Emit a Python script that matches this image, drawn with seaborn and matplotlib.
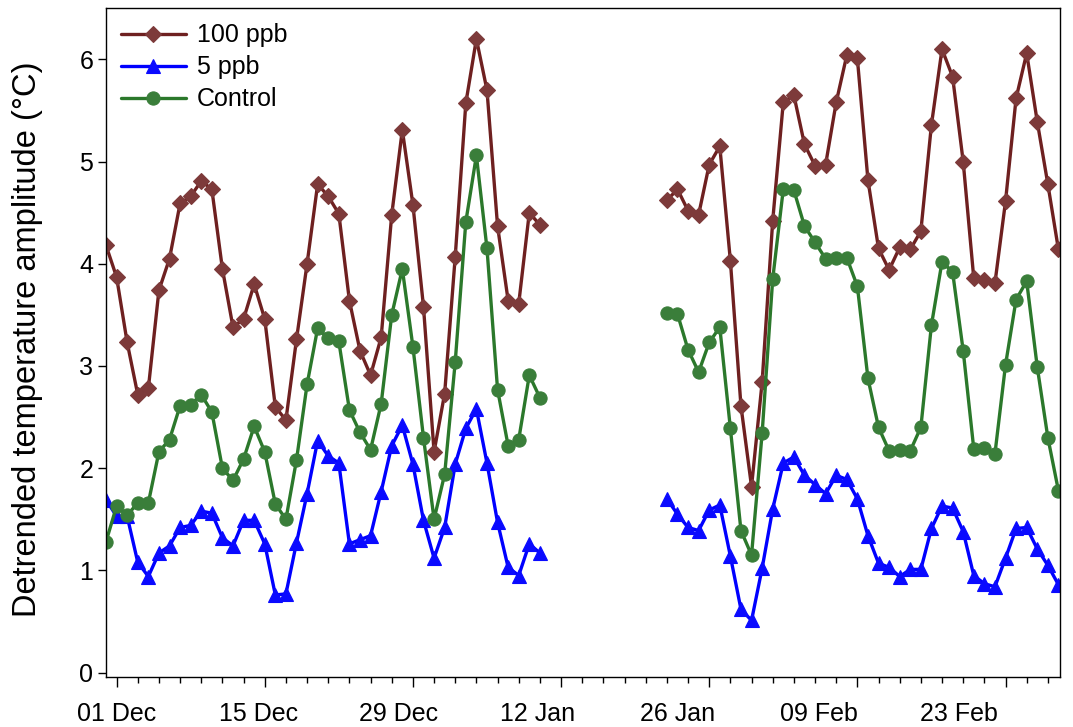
import numpy as np
import pandas as pd
import matplotlib
matplotlib.use("Agg")
import matplotlib.pyplot as plt
import matplotlib.dates as mdates
from matplotlib.transforms import ScaledTranslation
import seaborn as sns

# ---------------- data ----------------
series_names = ["100 ppb", "5 ppb", "Control"]
seg1_start = "2014-11-30"   # daily values, first block
seg2_start = "2015-01-22"   # daily values, second block

ppb100_seg1 = [4.18, 3.87, 3.23, 2.72, 2.78, 3.74, 4.05, 4.59, 4.66, 4.81, 4.73,
               3.95, 3.38, 3.46, 3.80, 3.46, 2.60, 2.47, 3.26, 4.00, 4.78, 4.66,
               4.49, 3.64, 3.15, 2.91, 3.28, 4.48, 5.31, 4.58, 3.58, 2.16, 2.73,
               4.07, 5.57, 6.20, 5.70, 4.37, 3.64, 3.61, 4.50, 4.38]
ppb100_seg2 = [4.62, 4.73, 4.52, 4.48, 4.97, 5.15, 4.03, 2.61, 1.82, 2.84, 4.42,
               5.58, 5.65, 5.17, 4.96, 4.97, 5.58, 6.04, 6.01, 4.82, 4.15, 3.94,
               4.16, 4.14, 4.32, 5.36, 6.10, 5.83, 5.00, 3.86, 3.84, 3.81, 4.61,
               5.62, 6.06, 5.39, 4.78, 4.14]

ppb5_seg1 = [1.69, 1.53, 1.53, 1.08, 0.94, 1.17, 1.24, 1.42, 1.44, 1.58, 1.56,
             1.32, 1.24, 1.49, 1.49, 1.26, 0.76, 0.77, 1.27, 1.75, 2.27, 2.12,
             2.05, 1.26, 1.30, 1.34, 1.77, 2.22, 2.42, 2.04, 1.49, 1.12, 1.42,
             2.04, 2.39, 2.58, 2.05, 1.47, 1.03, 0.95, 1.26, 1.17]
ppb5_seg2 = [1.70, 1.55, 1.42, 1.39, 1.59, 1.64, 1.14, 0.62, 0.51, 1.02, 1.60,
             2.05, 2.11, 1.93, 1.84, 1.75, 1.93, 1.89, 1.70, 1.34, 1.07, 1.03,
             0.94, 1.01, 1.01, 1.41, 1.63, 1.61, 1.38, 0.95, 0.87, 0.84, 1.12,
             1.41, 1.42, 1.21, 1.05, 0.86]

control_seg1 = [1.28, 1.63, 1.54, 1.66, 1.66, 2.16, 2.28, 2.61, 2.62, 2.72, 2.55,
                2.00, 1.88, 2.09, 2.41, 2.16, 1.65, 1.50, 2.08, 2.82, 3.37, 3.27,
                3.24, 2.57, 2.35, 2.18, 2.63, 3.50, 3.95, 3.19, 2.30, 1.50, 1.94,
                3.04, 4.41, 5.06, 4.15, 2.77, 2.22, 2.28, 2.91, 2.69]
control_seg2 = [3.52, 3.51, 3.16, 2.94, 3.23, 3.38, 2.39, 1.39, 1.15, 2.34, 3.85,
                4.73, 4.72, 4.37, 4.21, 4.05, 4.06, 4.06, 3.78, 2.88, 2.40, 2.17,
                2.18, 2.17, 2.40, 3.40, 4.02, 3.92, 3.15, 2.19, 2.20, 2.14, 3.01,
                3.65, 3.83, 2.99, 2.30, 1.78]

tick_labels = ["01 Dec", "15 Dec", "29 Dec", "12 Jan", "26 Jan", "09 Feb", "23 Feb"]
tick_dates = pd.date_range("2014-12-01", periods=len(tick_labels), freq="14D")
minor_dates = pd.date_range("2014-12-01", "2015-02-28", freq="2D")
y_ticks = [0, 1, 2, 3, 4, 5, 6]

# ---------------- styles ----------------
line_colors = {"100 ppb": "#6e2020", "5 ppb": "#0000ff", "Control": "#2b782b"}
face_colors = {"100 ppb": "#7d3a3a", "5 ppb": "#0a0aff", "Control": "#3a7e3a"}
marker_map = {"100 ppb": "D", "5 ppb": "^", "Control": "o"}
marker_size = {"100 ppb": 8.3, "5 ppb": 10.5, "Control": 9.5}
label_shift_px = [0, -6, -14, -23, -32, -38, -47]

segments = {
    "100 ppb": [ppb100_seg1, ppb100_seg2],
    "5 ppb": [ppb5_seg1, ppb5_seg2],
    "Control": [control_seg1, control_seg2],
}
starts = [seg1_start, seg2_start]

frames = []
for name in series_names:
    for k, vals in enumerate(segments[name]):
        d = pd.date_range(starts[k], periods=len(vals), freq="D")
        frames.append(pd.DataFrame({"date": d, "value": vals,
                                    "series": name, "segment": k}))
df = pd.concat(frames, ignore_index=True)

# ---------------- plot ----------------
sns.set_theme(style="ticks")
plt.rcParams["font.family"] = ["Liberation Sans", "DejaVu Sans"]
plt.rcParams["text.color"] = "black"
plt.rcParams["axes.labelcolor"] = "black"
plt.rcParams["xtick.color"] = "black"
plt.rcParams["ytick.color"] = "black"

fig = plt.figure(figsize=(10.73, 7.27), dpi=100)
ax = fig.add_axes([0.0985, 0.0692, 0.8891, 0.9194])

sns.lineplot(data=df, x="date", y="value", hue="series", style="series",
             units="segment", estimator=None, hue_order=series_names,
             style_order=series_names, palette=line_colors, markers=marker_map,
             dashes=False, linewidth=2.4, ax=ax)

color_to_name = {matplotlib.colors.to_hex(c): n for n, c in line_colors.items()}


def restyle(line):
    n = color_to_name.get(matplotlib.colors.to_hex(line.get_color()))
    if n is None:
        return
    line.set_markerfacecolor(face_colors[n])
    line.set_markeredgecolor(face_colors[n])
    line.set_markeredgewidth(0.8)
    line.set_markersize(marker_size[n])


for ln in ax.lines:
    restyle(ln)

leg = ax.get_legend()
handles = list(leg.legend_handles)
labels = [t.get_text() for t in leg.get_texts()]
keep = [(h, l) for h, l in zip(handles, labels) if l in series_names]
for h, l in keep:
    restyle(h)
    h.set_linewidth(2.4)
leg.remove()
ax.legend([h for h, _ in keep], [l for _, l in keep], loc="upper left",
          frameon=False, fontsize=18, handlelength=2.6, handletextpad=0.45,
          labelspacing=0.32, borderaxespad=0.3, borderpad=0.3,
          labelcolor="black")

ax.set_xlim(mdates.date2num(pd.Timestamp("2014-11-30")) - 0.03,
            mdates.date2num(pd.Timestamp("2015-02-28")) + 0.12)
ax.set_ylim(-0.04, 6.5)
ax.set_yticks(y_ticks)
ax.set_yticklabels([str(v) for v in y_ticks])
ax.set_xticks(tick_dates)
ax.set_xticklabels(tick_labels)
ax.set_xticks(minor_dates, minor=True)

ax.set_xlabel("")
ax.set_ylabel("Detrended temperature amplitude (°C)", fontsize=23.5,
              color="black")
ax.yaxis.set_label_coords(-0.066, 0.505)

ax.tick_params(axis="x", which="major", length=7, width=1.0, pad=11,
               labelsize=18, color="black", labelcolor="black")
ax.tick_params(axis="x", which="minor", length=4.5, width=1.0, color="black")
ax.tick_params(axis="y", which="major", length=6, width=1.0, pad=3,
               labelsize=18, color="black", labelcolor="black")
for sp in ax.spines.values():
    sp.set_linewidth(1.0)
    sp.set_color("black")
ax.grid(False)

fig.canvas.draw()
for lab, dx in zip(ax.get_xticklabels(), label_shift_px):
    lab.set_transform(lab.get_transform() +
                      ScaledTranslation(dx / fig.dpi, 0, fig.dpi_scale_trans))

fig.savefig("out.png", dpi=100)
